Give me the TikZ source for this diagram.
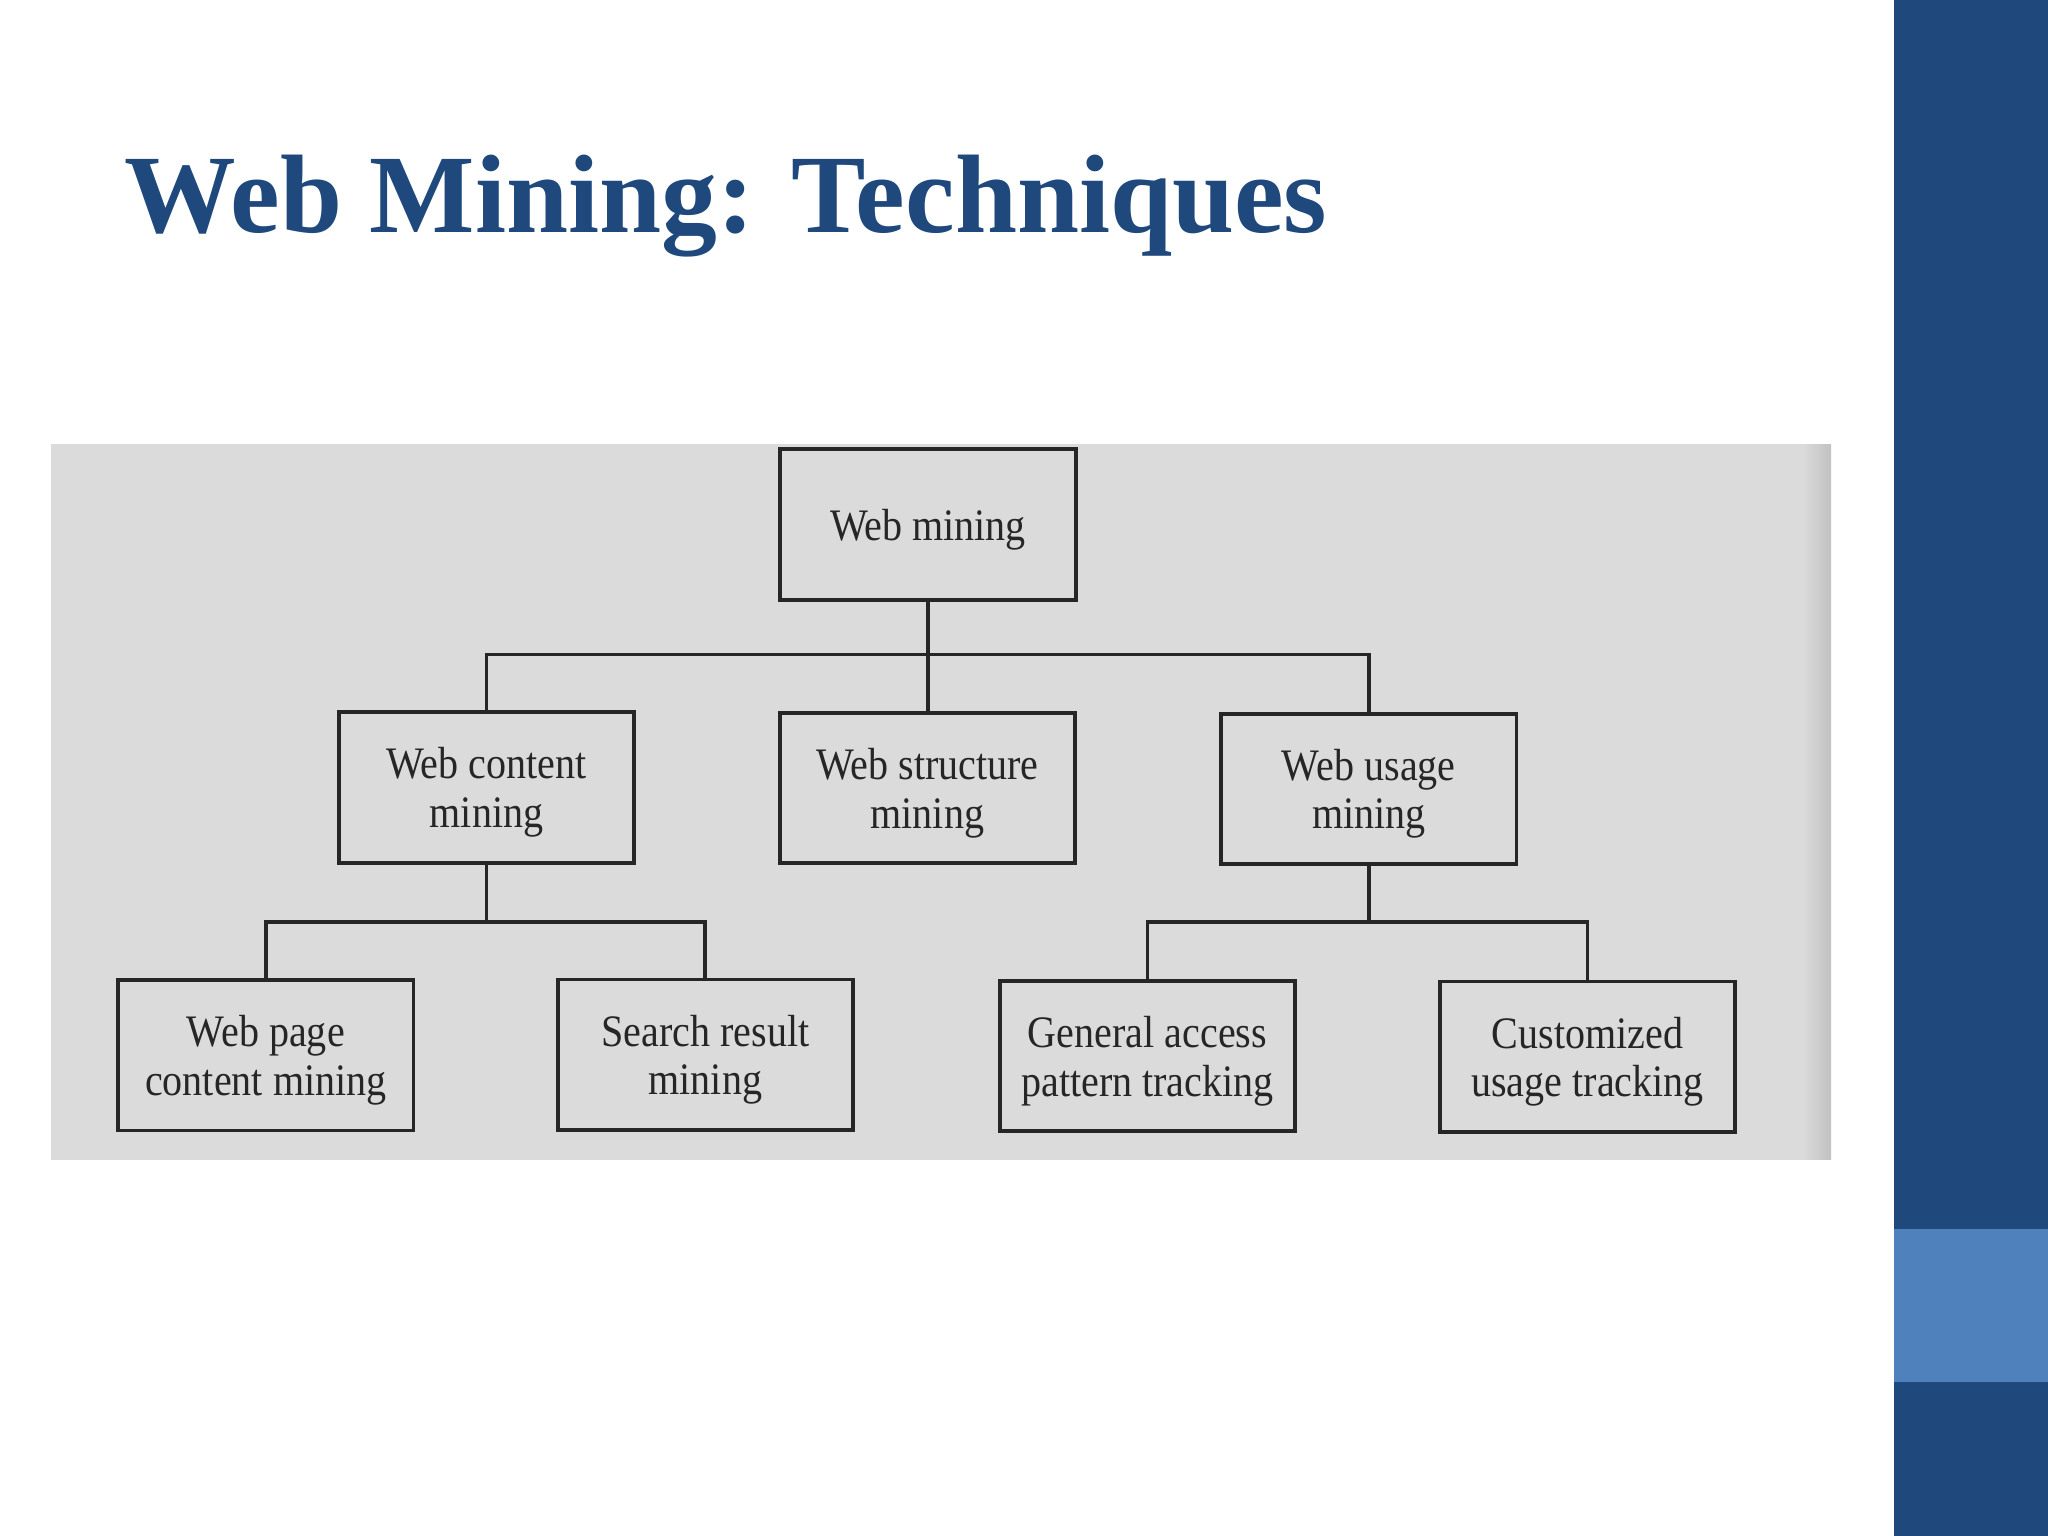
\documentclass[tikz,border=0pt]{standalone}
\usepackage{fontspec}
\setmainfont{Liberation Serif}
\usepackage{graphicx}
\definecolor{darkblue}{HTML}{1F497D}
\definecolor{lightblue}{HTML}{4F81BD}
\definecolor{panelgrey}{HTML}{DBDBDB}
\definecolor{inkgrey}{HTML}{262626}
\newcommand{\boxlbl}[1]{\raisebox{-1.3pt}[\height][\depth]{\scalebox{0.89}[1]{\begin{tabular}{@{}c@{}}#1\end{tabular}}}}
\tikzset{
  tbox/.style={draw=inkgrey, line width=0.85pt, minimum width=2.26cm, minimum height=1.15cm,
    inner sep=0pt, text=inkgrey, font=\fontsize{9.8}{10.6}\selectfont},
  conn/.style={draw=inkgrey, line width=0.8pt}
}
\begin{document}
\begin{tikzpicture}[x=0.01cm, y=-0.01cm]
\useasboundingbox (0,0) rectangle (1568,1176);
\fill[white] (0,0) rectangle (1568,1176);
% right bar
\fill[darkblue] (1450,0) rectangle (1568,1176);
\fill[lightblue] (1450,941) rectangle (1568,1058);
% title
\node[anchor=base west, inner sep=0pt, text=darkblue, font=\fontsize{24.3}{28}\selectfont\bfseries] (title) at (95,178) {Web Mining: Techniques};
% panel
\fill[panelgrey] (39,340) rectangle (1402,888);
\shade[left color=panelgrey, right color=panelgrey!88!black] (1380,340) rectangle (1402,888);
% nodes
\node[tbox] (top) at (710.5,401.5) {\boxlbl{Web mining}};
\node[tbox] (wcm) at (372.5,603) {\boxlbl{Web content\\mining}};
\node[tbox] (wsm) at (710,603.5) {\boxlbl{Web structure\\mining}};
\node[tbox] (wum) at (1048,604) {\boxlbl{Web usage\\mining}};
\node[tbox] (wpc) at (203.5,808) {\boxlbl{Web page\\content mining}};
\node[tbox] (srm) at (540,807.5) {\boxlbl{Search result\\mining}};
\node[tbox] (gap) at (878.5,808.5) {\boxlbl{General access\\pattern tracking}};
\node[tbox] (cut) at (1215.5,809) {\boxlbl{Customized\\usage tracking}};
% junctions
\coordinate (j1) at (710.5,501);
\coordinate (j2) at (372.5,706);
\coordinate (j3) at (1048,706);
% connectors
\draw[conn] (top.south) -- (j1);
\draw[conn] (wcm.north) |- (j1) -| (wum.north);
\draw[conn] (j1) -- (j1 |- wsm.north);
\draw[conn] (wcm.south) -- (j2);
\draw[conn] (wpc.north) |- (j2) -| (srm.north);
\draw[conn] (wum.south) -- (j3);
\draw[conn] (gap.north) |- (j3) -| (cut.north);
\end{tikzpicture}
\end{document}
